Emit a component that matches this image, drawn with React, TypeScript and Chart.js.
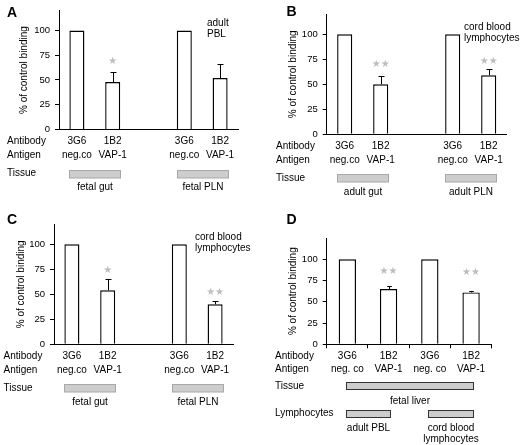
import { useEffect, useRef } from "react";
import { Chart, registerables } from "chart.js";

Chart.register(...registerables);

const FONT = "'Liberation Sans', Arial, Helvetica, sans-serif";

// ---- data ----
// panels A-C: two groups, empty slot in between
const antibodiesABC = ["3G6", "1B2", "", "3G6", "1B2"];
const antigensABC = ["neg.co", "VAP-1", "", "neg.co", "VAP-1"];
const groupSpansABC: [number, number][] = [[0, 1], [3, 4]];

// A: adult PBL
const bindingA = [100, 48, null, 100, 52];
const errorA = [0, 10, 0, 0, 14];
const starsA = [0, 1, 0, 0, 0];
const starLevelA = [0, 69, 0, 0, 0];
const tissueA = ["fetal gut", "fetal PLN"];
const noteA = ["adult", "PBL"];

// B: cord blood lymphocytes on adult tissue
const bindingB = [100, 50, null, 100, 59];
const errorB = [0, 8.3, 0, 0, 6.7];
const starsB = [0, 2, 0, 0, 2];
const starLevelB = [0, 70, 0, 0, 73];
const tissueB = ["adult gut", "adult PLN"];
const noteBC = ["cord blood", "lymphocytes"];

// C: cord blood lymphocytes on fetal tissue
const bindingC = [100, 54, null, 100, 40];
const errorC = [0, 11, 0, 0, 3.3];
const starsC = [0, 1, 0, 0, 2];
const starLevelC = [0, 74, 0, 0, 52];
const tissueC = ["fetal gut", "fetal PLN"];

// D: fetal liver
const antibodiesD = ["3G6", "1B2", "3G6", "1B2"];
const antigensD = ["neg. co", "VAP-1", "neg. co", "VAP-1"];
const bindingD = [100, 65, 100, 61];
const errorD = [0, 3.2, 0, 2];
const starsD = [0, 2, 0, 2];
const starLevelD = [0, 86, 0, 84];
const tissueD = ["fetal liver"];
const tissueSpansD: [number, number][] = [[0, 3]];
const lymphD = ["adult PBL", "cord blood\nlymphocytes"];
const lymphSpansD: [number, number][] = [[0, 1], [2, 3]];

interface BoxRow {
  title: string;
  names: string[];
  spans: [number, number][];
  titleY: number;
  boxTop: number;
  nameY: number;
}

interface Layout {
  left: number;
  top: number;
  width: number;
  height: number;
  area: { left: number; right: number; top: number; bottom: number };
  yMax: number;
  titlePad: number;
  letter: string;
  letterX: number;
  letterY: number;
  note?: string[];
  noteX?: number;
  noteY?: number;
  rowX: number;
  antibodyY: number;
  antigenY: number;
  boxPad: number;
  boxH: number;
  boxStroke: string;
  xTicks: boolean;
  capW: number;
}

interface PanelProps {
  layout: Layout;
  antibodies: string[];
  antigens: string[];
  values: (number | null)[];
  errors: number[];
  stars: number[];
  starLevels: number[];
  rows: BoxRow[];
}

function Panel({ layout: L, antibodies, antigens, values, errors, stars, starLevels, rows }: PanelProps) {
  const canvasRef = useRef<HTMLCanvasElement>(null);

  useEffect(() => {
    if (!canvasRef.current) return;

    const extras = {
      id: "extras",
      afterDatasetsDraw(chart: Chart) {
        const ctx = chart.ctx;
        const x = chart.scales.x;
        const y = chart.scales.y;
        const meta = chart.getDatasetMeta(0);
        ctx.save();

        // error bars (upper whisker only)
        ctx.strokeStyle = "#000";
        ctx.lineWidth = 1;
        values.forEach((v, i) => {
          if (v == null || !errors[i]) return;
          const px = Math.round(meta.data[i].x) + 0.5;
          const y0 = y.getPixelForValue(v);
          const y1 = Math.round(y.getPixelForValue(v + errors[i])) + 0.5;
          ctx.beginPath();
          ctx.moveTo(px, y0);
          ctx.lineTo(px, y1);
          ctx.moveTo(px - L.capW, y1);
          ctx.lineTo(px + L.capW, y1);
          ctx.stroke();
        });

        // significance stars
        ctx.fillStyle = "#bdbdbd";
        ctx.font = "10px 'DejaVu Sans'";
        ctx.textAlign = "center";
        ctx.textBaseline = "middle";
        stars.forEach((n, i) => {
          if (!n) return;
          ctx.fillText("\u2605".repeat(n), x.getPixelForValue(i), y.getPixelForValue(starLevels[i]));
        });
        ctx.restore();
      },
      afterDraw(chart: Chart) {
        const ctx = chart.ctx;
        const x = chart.scales.x;
        const bottom = chart.chartArea.bottom;
        ctx.save();
        ctx.fillStyle = "#000";
        ctx.textBaseline = "middle";

        // panel letter
        ctx.font = `bold 14px ${FONT}`;
        ctx.textAlign = "left";
        ctx.fillText(L.letter, L.letterX, L.letterY);

        ctx.font = `10px ${FONT}`;
        if (L.note) {
          L.note.forEach((t, k) => ctx.fillText(t, L.noteX!, L.noteY! + k * 11));
        }

        // category rows
        ctx.fillText("Antibody", L.rowX, bottom + L.antibodyY);
        ctx.fillText("Antigen", L.rowX, bottom + L.antigenY);
        ctx.textAlign = "center";
        antibodies.forEach((t, i) => ctx.fillText(t, x.getPixelForValue(i), bottom + L.antibodyY));
        antigens.forEach((t, i) => ctx.fillText(t, x.getPixelForValue(i), bottom + L.antigenY));

        // tissue / lymphocyte rows with grey boxes
        rows.forEach((r) => {
          ctx.textAlign = "left";
          ctx.fillStyle = "#000";
          ctx.fillText(r.title, L.rowX, bottom + r.titleY);
          r.spans.forEach(([a, b], k) => {
            const x0 = Math.round(x.getPixelForValue(a) - L.boxPad) + 0.5;
            const x1 = Math.round(x.getPixelForValue(b) + L.boxPad) + 0.5;
            const yTop = Math.round(bottom + r.boxTop) + 0.5;
            ctx.fillStyle = "#cdcdcd";
            ctx.fillRect(x0, yTop, x1 - x0, L.boxH);
            ctx.strokeStyle = L.boxStroke;
            ctx.lineWidth = 1;
            ctx.strokeRect(x0, yTop, x1 - x0, L.boxH);
            ctx.fillStyle = "#000";
            ctx.textAlign = "center";
            r.names[k].split("\n").forEach((line, j) =>
              ctx.fillText(line, (x0 + x1) / 2, bottom + r.nameY + j * 11)
            );
          });
        });
        ctx.restore();
      },
    };

    const chart = new Chart(canvasRef.current, {
      type: "bar",
      data: {
        labels: antibodies,
        datasets: [
          {
            data: values,
            backgroundColor: "#fff",
            borderColor: "#000",
            borderWidth: 1.4,
            barPercentage: 0.42,
            categoryPercentage: 1,
          },
        ],
      },
      options: {
        animation: false,
        responsive: false,
        maintainAspectRatio: false,
        layout: {
          padding: {
            left: 0,
            top: L.area.top,
            right: L.width - L.area.right,
            bottom: L.height - L.area.bottom,
          },
        },
        plugins: { legend: { display: false }, tooltip: { enabled: false } },
        scales: {
          x: {
            grid: {
              display: L.xTicks,
              drawOnChartArea: false,
              drawTicks: true,
              tickLength: 4,
              color: "#000",
              offset: true,
            },
            border: { display: true, color: "#000", width: 1 },
            ticks: { display: false },
            afterFit: (s: any) => {
              s.height = 0;
            },
          },
          y: {
            min: 0,
            max: L.yMax,
            afterBuildTicks: (s: any) => {
              s.ticks = s.ticks.filter((t: any) => t.value <= 100);
            },
            ticks: {
              stepSize: 25,
              color: "#000",
              padding: 5,
              font: { family: FONT, size: 9.5 },
            },
            grid: { drawOnChartArea: false, drawTicks: true, tickLength: 4, color: "#000" },
            border: { color: "#000", width: 1 },
            title: {
              display: true,
              text: "% of control binding",
              color: "#000",
              font: { family: FONT, size: 10 },
              padding: { top: L.titlePad, bottom: 0 },
            },
            afterFit: (s: any) => {
              s.width = L.area.left;
            },
          },
        },
      },
      plugins: [extras],
    });

    return () => {
      chart.destroy();
    };
  }, []);

  return (
    <div style={{ position: "absolute", left: L.left, top: L.top, width: L.width, height: L.height }}>
      <canvas ref={canvasRef} width={L.width} height={L.height} style={{ width: L.width, height: L.height }} />
    </div>
  );
}

const baseABC = {
  width: 260,
  titlePad: 18,
  antibodyY: 12,
  antigenY: 25.5,
  boxPad: 7.5,
  boxH: 7.5,
  boxStroke: "#a8a8a8",
  xTicks: false,
  capW: 3,
  yMax: 120,
};

const rowsABC = (names: string[]): BoxRow[] => [
  { title: "Tissue", names, spans: groupSpansABC, titleY: 43.8, boxTop: 40, nameY: 58 },
];

const layoutA: Layout = {
  ...baseABC,
  left: 0,
  top: 0,
  height: 205,
  area: { left: 59, right: 238, top: 10, bottom: 129.5 },
  titlePad: 18.7,
  letter: "A",
  letterX: 7,
  letterY: 13,
  note: noteA,
  noteX: 207,
  noteY: 23.5,
  rowX: 7,
};

const layoutB: Layout = {
  ...baseABC,
  left: 260,
  top: 0,
  height: 205,
  area: { left: 66.7, right: 246.7, top: 14.3, bottom: 134.3 },
  titlePad: 27,
  letter: "B",
  letterX: 26.5,
  letterY: 12.5,
  note: noteBC,
  noteX: 204,
  noteY: 27,
  rowX: 16,
};

const layoutC: Layout = {
  ...baseABC,
  left: 0,
  top: 205,
  height: 240,
  area: { left: 54, right: 233, top: 19.3, bottom: 139.3 },
  titlePad: 14.8,
  letter: "C",
  letterX: 7,
  letterY: 15.5,
  note: noteBC,
  noteX: 195,
  noteY: 32.5,
  rowX: 3.5,
};

const layoutD: Layout = {
  left: 260,
  top: 205,
  width: 260,
  height: 240,
  area: { left: 66.7, right: 231.7, top: 33.05, bottom: 139.3 },
  yMax: 125,
  titlePad: 27,
  letter: "D",
  letterX: 26.5,
  letterY: 15.5,
  rowX: 15,
  antibodyY: 11.7,
  antigenY: 25,
  boxPad: 1.5,
  boxH: 7,
  boxStroke: "#333",
  xTicks: true,
  capW: 2.3,
};

const rowsD: BoxRow[] = [
  { title: "Tissue", names: tissueD, spans: tissueSpansD, titleY: 41.5, boxTop: 38, nameY: 56.7 },
  { title: "Lymphocytes", names: lymphD, spans: lymphSpansD, titleY: 69, boxTop: 65.7, nameY: 83.5 },
];

export default function App() {
  return (
    <div style={{ position: "fixed", left: 0, top: 0, width: 520, height: 445, background: "#fff" }}>
      <Panel
        layout={layoutA}
        antibodies={antibodiesABC}
        antigens={antigensABC}
        values={bindingA}
        errors={errorA}
        stars={starsA}
        starLevels={starLevelA}
        rows={rowsABC(tissueA)}
      />
      <Panel
        layout={layoutB}
        antibodies={antibodiesABC}
        antigens={antigensABC}
        values={bindingB}
        errors={errorB}
        stars={starsB}
        starLevels={starLevelB}
        rows={rowsABC(tissueB)}
      />
      <Panel
        layout={layoutC}
        antibodies={antibodiesABC}
        antigens={antigensABC}
        values={bindingC}
        errors={errorC}
        stars={starsC}
        starLevels={starLevelC}
        rows={rowsABC(tissueC)}
      />
      <Panel
        layout={layoutD}
        antibodies={antibodiesD}
        antigens={antigensD}
        values={bindingD}
        errors={errorD}
        stars={starsD}
        starLevels={starLevelD}
        rows={rowsD}
      />
    </div>
  );
}
